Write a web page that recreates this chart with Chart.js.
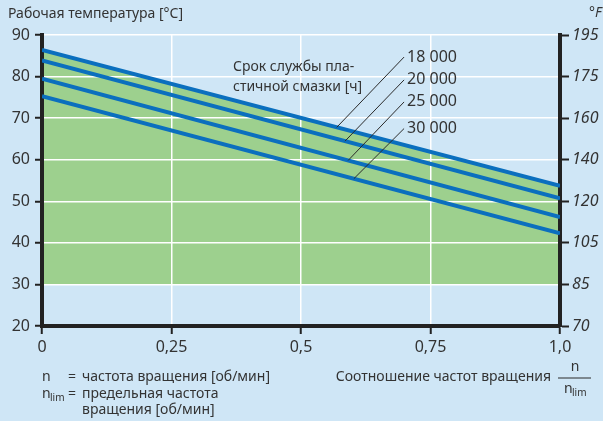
<!DOCTYPE html>
<html>
<head>
<meta charset="utf-8">
<script src="https://cdn.jsdelivr.net/npm/chart.js@4/dist/chart.umd.min.js"></script>
<style>
  html, body { margin: 0; padding: 0; background: #cfe6f6; }
  #wrap { width: 603px; height: 421px; position: relative; }
  canvas { display: block; }
</style>
</head>
<body>
<div id="wrap"><canvas id="c" width="603" height="421"></canvas></div>
<script>
// Speed ratio n/n_lim (x) and operating temperature in °C for each grease life
const speedRatio = [0, 1];
const life18000 = [86.4, 53.7];
const life20000 = [83.9, 50.7];
const life25000 = [79.5, 46.2];
const life30000 = [75.3, 42.3];
const lifeLabels = ['18 000', '20 000', '25 000', '30 000'];

// Axis ticks
const xTickValues = [0, 0.25, 0.5, 0.75, 1];
const xTickLabels = ['0', '0,25', '0,5', '0,75', '1,0'];
const celsiusTicks = [20, 30, 40, 50, 60, 70, 80, 90];
const fahrenheitLabels = ['70', '85', '105', '120', '140', '160', '175', '195'];

// Lower edge of the shaded operating range (°C)
const fillFloor = 30;

// Leader lines: x where each meets its curve, and the label anchor (x, °C)
const leaderHitX = [0.569, 0.585, 0.591, 0.602];
const leaderLabelPos = [[0.699, 84.7], [0.699, 79.2], [0.699, 73.9], [0.699, 67.5]];

const lifeSeries = [life18000, life20000, life25000, life30000];

const GREEN = '#9dd08e';
const BLUE = '#0b6fbe';
const INK = '#333333';
const AXIS = '#222222';
const FONT = '"Noto Sans", "DejaVu Sans", sans-serif';

function pts(series) {
  return speedRatio.map((x, i) => ({ x: x, y: series[i] }));
}
function valueAt(series, x) {
  for (let i = 0; i < speedRatio.length - 1; i++) {
    const x0 = speedRatio[i], x1 = speedRatio[i + 1];
    if (x >= x0 && x <= x1) {
      const t = (x - x0) / (x1 - x0);
      return series[i] + t * (series[i + 1] - series[i]);
    }
  }
  return series[series.length - 1];
}

const annotations = {
  id: 'annotations',
  afterDraw(chart) {
    const ctx = chart.ctx;
    const xs = chart.scales.x, ys = chart.scales.y;
    ctx.save();

    // leader lines and grease-life labels
    ctx.strokeStyle = '#2a2a2a';
    ctx.lineWidth = 1;
    ctx.fillStyle = INK;
    ctx.font = '16px ' + FONT;
    ctx.textBaseline = 'middle';
    ctx.textAlign = 'left';
    lifeSeries.forEach((s, i) => {
      const hx = leaderHitX[i];
      const [lx, ly] = leaderLabelPos[i];
      ctx.beginPath();
      ctx.moveTo(xs.getPixelForValue(hx), ys.getPixelForValue(valueAt(s, hx)));
      ctx.lineTo(xs.getPixelForValue(lx), ys.getPixelForValue(ly));
      ctx.stroke();
      ctx.fillText(lifeLabels[i], xs.getPixelForValue(lx) + 3, ys.getPixelForValue(ly));
    });

    ctx.font = '14px ' + FONT;
    ctx.fillText('Срок службы пла-', 233, 67);
    ctx.fillText('стичной смазки [ч]', 233, 87);

    // axis titles
    ctx.fillText('Рабочая температура [°C]', 8, 14);
    ctx.font = 'italic 14px ' + FONT;
    ctx.fillText('°F', 589, 13);

    // symbol legend
    ctx.font = '14px ' + FONT;
    ctx.fillText('n', 42, 377);
    ctx.fillText('=', 68, 377);
    ctx.fillText('частота вращения [об/мин]', 82, 377);
    ctx.fillText('n', 42, 394);
    ctx.font = '10px ' + FONT;
    ctx.fillText('lim', 50, 398);
    ctx.font = '14px ' + FONT;
    ctx.fillText('=', 68, 394);
    ctx.fillText('предельная частота', 82, 394);
    ctx.fillText('вращения [об/мин]', 82, 410);

    // x-axis title with fraction
    ctx.textAlign = 'right';
    ctx.fillText('Соотношение частот вращения', 551, 377);
    ctx.textAlign = 'center';
    ctx.fillText('n', 575, 367);
    ctx.beginPath();
    ctx.moveTo(558, 378);
    ctx.lineTo(591, 378);
    ctx.stroke();
    ctx.textAlign = 'left';
    ctx.fillText('n', 564, 389);
    ctx.font = '10px ' + FONT;
    ctx.fillText('lim', 572, 393);

    ctx.restore();
  }
};

const lineStyle = {
  borderColor: BLUE,
  borderWidth: 4,
  pointRadius: 0,
  tension: 0
};

new Chart(document.getElementById('c'), {
  type: 'line',
  data: {
    datasets: [
      Object.assign({ label: lifeLabels[0], data: pts(life18000), fill: { value: fillFloor }, backgroundColor: GREEN }, lineStyle),
      Object.assign({ label: lifeLabels[1], data: pts(life20000), fill: false }, lineStyle),
      Object.assign({ label: lifeLabels[2], data: pts(life25000), fill: false }, lineStyle),
      Object.assign({ label: lifeLabels[3], data: pts(life30000), fill: false }, lineStyle)
    ]
  },
  options: {
    responsive: false,
    animation: false,
    devicePixelRatio: 1,
    layout: { padding: { top: 35, left: 0, right: 0, bottom: 0 } },
    plugins: {
      legend: { display: false },
      tooltip: { enabled: false },
      filler: { drawTime: 'beforeDraw' }
    },
    scales: {
      x: {
        type: 'linear',
        min: 0,
        max: 1,
        afterBuildTicks: s => { s.ticks = xTickValues.map(v => ({ value: v })); },
        afterFit: s => { s.height = 95; },
        ticks: {
          callback: v => xTickLabels[xTickValues.indexOf(v)],
          color: INK,
          font: { family: FONT, size: 16 },
          padding: 4,
          maxRotation: 0
        },
        grid: { color: '#ffffff', lineWidth: 1.5, tickColor: AXIS, tickLength: 8, tickWidth: 2 },
        border: { color: AXIS, width: 4 }
      },
      y: {
        position: 'left',
        min: 20,
        max: 90,
        afterBuildTicks: s => { s.ticks = celsiusTicks.map(v => ({ value: v })); },
        afterFit: s => { s.width = 42; },
        ticks: {
          color: INK,
          font: { family: FONT, size: 16 },
          padding: 5
        },
        grid: { color: '#ffffff', lineWidth: 1.5, tickColor: AXIS, tickLength: 7, tickWidth: 2 },
        border: { color: AXIS, width: 4 }
      },
      y2: {
        position: 'right',
        min: 20,
        max: 90,
        afterBuildTicks: s => { s.ticks = celsiusTicks.map(v => ({ value: v })); },
        afterFit: s => { s.width = 43; },
        ticks: {
          callback: v => fahrenheitLabels[celsiusTicks.indexOf(v)],
          color: INK,
          font: { family: FONT, size: 16, style: 'italic' },
          padding: 3
        },
        grid: { drawOnChartArea: false, tickColor: AXIS, tickLength: 9, tickWidth: 2 },
        border: { color: AXIS, width: 4 }
      }
    }
  },
  plugins: [annotations]
});
</script>
</body>
</html>
